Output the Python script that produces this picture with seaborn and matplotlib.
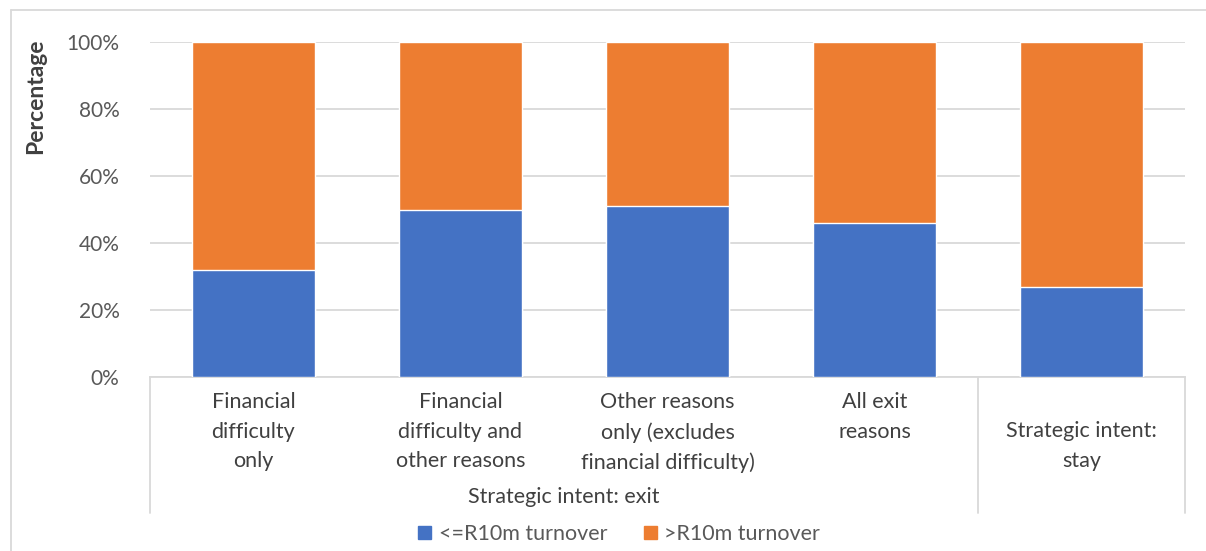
import matplotlib
matplotlib.use("Agg")
import matplotlib.pyplot as plt
import matplotlib.patches as mpatches
import matplotlib.transforms as mtransforms
from matplotlib.lines import Line2D
import seaborn as sns
import pandas as pd

# Share of firms by turnover band, per strategic-intent group (%)
categories = [
    "Financial\ndifficulty\nonly",
    "Financial\ndifficulty and\nother reasons",
    "Other reasons\nonly (excludes\nfinancial difficulty)",
    "All exit\nreasons",
    "Strategic intent:\nstay",
]
group_labels = ["Strategic intent: exit", ""]
small_turnover = [32, 50, 51, 46, 27]    # <=R10m turnover
large_turnover = [68, 50, 49, 54, 73]    # >R10m turnover
series_names = ["<=R10m turnover", ">R10m turnover"]
y_ticks = [0, 20, 40, 60, 80, 100]

BLUE = "#4472C4"
ORANGE = "#ED7D31"
GRID = "#D9D9D9"
TICK_TXT = "#595959"
CAT_TXT = "#404040"
FS = 15.5
LS = 1.6

sns.set_theme(style="white")
plt.rcParams["font.family"] = ["Lato", "DejaVu Sans"]

W, H = 1206, 551
fig = plt.figure(figsize=(W / 100, H / 100), dpi=100)
left, right, top, bottom = 150, 1185, 42, 377
ax = fig.add_axes([left / W, 1 - bottom / H, (right - left) / W, (bottom - top) / H])

df = pd.DataFrame({
    "category": categories,
    "small": small_turnover,
    "large": large_turnover,
})
df["stack_top"] = df["small"] + df["large"]

# Stacked bars: full stack in orange, lower segment in blue on top of it
sns.barplot(data=df, x="category", y="stack_top", color=ORANGE, width=0.59,
            saturation=1, ax=ax, zorder=3)
sns.barplot(data=df, x="category", y="small", color=BLUE, width=0.59,
            saturation=1, ax=ax, zorder=4)

ax.set_xlim(-0.5, len(categories) - 0.5)
ax.set_ylim(0, 100)
ax.set_yticks(y_ticks)
ax.set_yticklabels([f"{v}%" for v in y_ticks], color=TICK_TXT, fontsize=15)
ax.tick_params(axis="y", length=0, pad=22)
ax.set_xticks([])
ax.set_xlabel("")
ax.set_ylabel("")
ax.grid(axis="y", color=GRID, linewidth=1.3, zorder=0)
ax.set_axisbelow(True)
for side in ["top", "right", "left"]:
    ax.spines[side].set_visible(False)
ax.spines["bottom"].set_color(GRID)
ax.spines["bottom"].set_linewidth(1.3)

# Multi-level category axis
trans = mtransforms.blended_transform_factory(ax.transData, ax.transAxes)
px = 1 / (bottom - top)
for i, lab in enumerate(categories[:4]):
    ax.text(i, -(392 - bottom) * px, lab, transform=trans, ha="center", va="top",
            fontsize=FS, color=CAT_TXT, linespacing=LS)
ax.text(4, -(446 - bottom) * px, categories[4], transform=trans, ha="center",
        va="center", fontsize=FS, color=CAT_TXT, linespacing=LS)
ax.text(1.5, -(497 - bottom) * px, group_labels[0], transform=trans, ha="center",
        va="center", fontsize=FS, color=CAT_TXT)
for xs in [-0.5, 3.5, 4.5]:
    ax.add_line(Line2D([xs, xs], [0, -(513 - bottom) * px], transform=trans,
                       color=GRID, linewidth=1.3, clip_on=False))

# Axis title
fig.text(36 / W, 1 - 96 / H, "Percentage", rotation=90, ha="center", va="center",
         fontsize=16.5, fontweight="bold", color="#404040")

# Legend
handles = [mpatches.Patch(color=BLUE, label=series_names[0]),
           mpatches.Patch(color=ORANGE, label=series_names[1])]
fig.legend(handles=handles, loc="center", bbox_to_anchor=(619 / W, 1 - 534 / H),
           ncol=2, frameon=False, fontsize=FS, handlelength=0.6,
           handleheight=0.6, handletextpad=0.35, columnspacing=1.7,
           labelcolor=TICK_TXT)

# Chart frame
fig.add_artist(Line2D([11 / W, 11 / W], [0, 1 - 10 / H], transform=fig.transFigure,
                      color=GRID, linewidth=1.3))
fig.add_artist(Line2D([11 / W, 1], [1 - 10 / H, 1 - 10 / H], transform=fig.transFigure,
                      color=GRID, linewidth=1.3))

fig.savefig("out.png", dpi=100, facecolor="white")
